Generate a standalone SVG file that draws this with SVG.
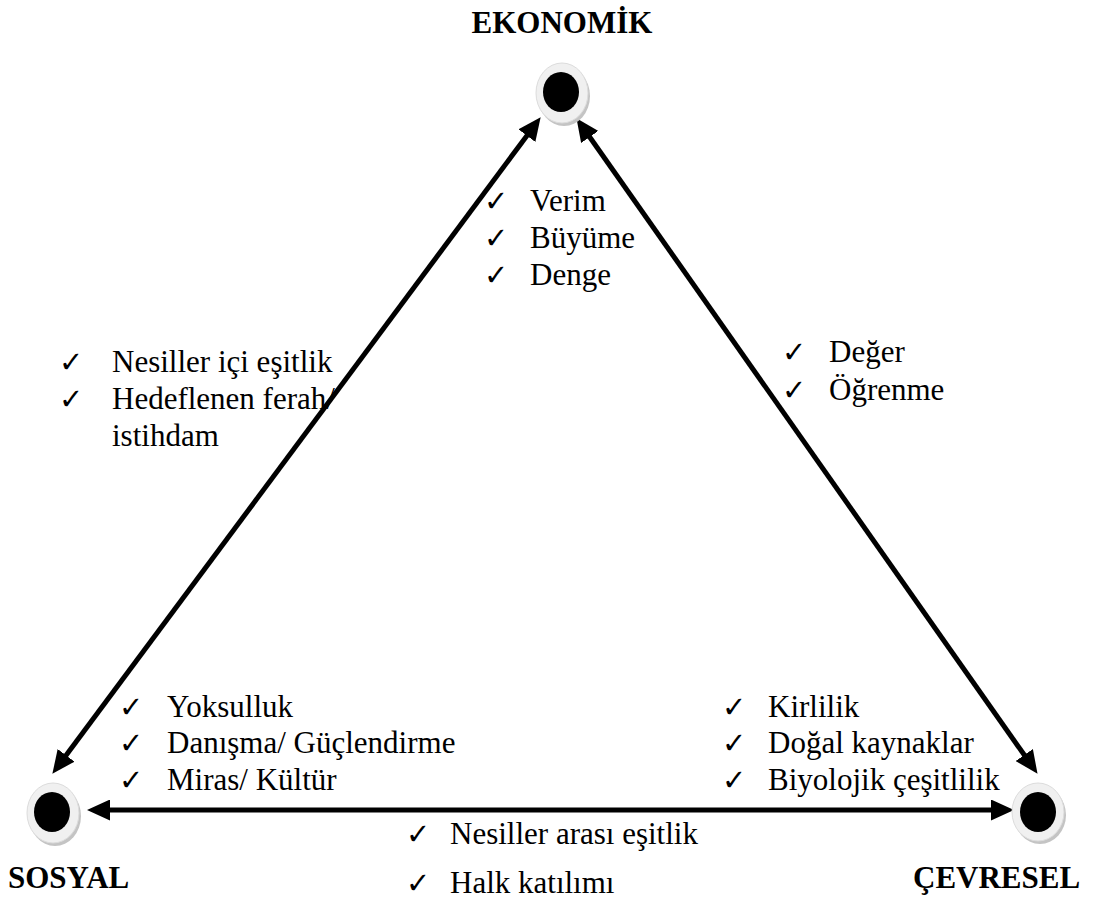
<svg xmlns="http://www.w3.org/2000/svg" width="1094" height="907" viewBox="0 0 1094 907">
<style>
.t{font-family:"Liberation Serif","Times New Roman",serif;font-size:31px;fill:#000}
.h{font-family:"Liberation Serif","Times New Roman",serif;font-size:31px;font-weight:bold;fill:#000}
.c{font-family:"DejaVu Sans",sans-serif;font-size:29px;font-weight:bold;fill:#000}
.ln{stroke:#000;stroke-width:5;fill:none}
.sh{fill:#c4c4c4}
.ring{fill:#f0f0f0;stroke:#dcdcdc;stroke-width:1}
.dot{fill:#000}
</style>
<defs>
<marker id="ah" markerUnits="userSpaceOnUse" markerWidth="23" markerHeight="21" viewBox="0 0 23 21" refX="4" refY="10.5" orient="auto-start-reverse">
<path d="M0,0 L23,10.5 L0,21 z" fill="#000"/>
</marker>
</defs>
<rect width="1094" height="907" fill="#fff"/>
<g id="connectors">
<line class="ln" x1="63.7" y1="758.6" x2="529.3" y2="132.4" marker-start="url(#ah)" marker-end="url(#ah)"/>
<line class="ln" x1="587.4" y1="133.7" x2="1026.6" y2="758.3" marker-start="url(#ah)" marker-end="url(#ah)"/>
<line class="ln" x1="106" y1="810" x2="995" y2="810" marker-start="url(#ah)" marker-end="url(#ah)"/>
</g>
<g id="ekonomik">
<ellipse class="sh" cx="564" cy="96" rx="26" ry="30"/>
<ellipse class="ring" cx="562" cy="93" rx="26" ry="30"/>
<ellipse class="dot" cx="561" cy="92" rx="18" ry="20"/>
<text class="h" x="562" y="33" text-anchor="middle">EKONOMİK</text>
</g>
<g id="sosyal">
<ellipse class="sh" cx="55" cy="816" rx="26" ry="30"/>
<ellipse class="ring" cx="53" cy="813" rx="26" ry="30"/>
<ellipse class="dot" cx="52" cy="812" rx="18" ry="20"/>
<text class="h" x="8" y="888">SOSYAL</text>
</g>
<g id="cevresel">
<ellipse class="sh" cx="1040" cy="815" rx="26" ry="29"/>
<ellipse class="ring" cx="1038" cy="812" rx="26" ry="29"/>
<ellipse class="dot" cx="1038" cy="812" rx="18" ry="20"/>
<text class="h" x="913" y="888">ÇEVRESEL</text>
</g>
<g id="ekonomik-items">
<text class="c" x="484" y="211">✓</text><text class="t" x="530" y="211">Verim</text>
<text class="c" x="484" y="248">✓</text><text class="t" x="530" y="248">Büyüme</text>
<text class="c" x="484" y="285">✓</text><text class="t" x="530" y="285">Denge</text>
</g>
<g id="sosyal-ekonomik-items">
<text class="c" x="59" y="372">✓</text><text class="t" x="112" y="372">Nesiller içi eşitlik</text>
<text class="c" x="59" y="409">✓</text><text class="t" x="112" y="409">Hedeflenen ferah/</text>
<text class="t" x="112" y="446">istihdam</text>
</g>
<g id="cevresel-ekonomik-items">
<text class="c" x="782" y="362">✓</text><text class="t" x="829" y="362">Değer</text>
<text class="c" x="782" y="400">✓</text><text class="t" x="829" y="400">Öğrenme</text>
</g>
<g id="sosyal-items">
<text class="c" x="119" y="717">✓</text><text class="t" x="167" y="717">Yoksulluk</text>
<text class="c" x="119" y="753">✓</text><text class="t" x="167" y="753">Danışma/ Güçlendirme</text>
<text class="c" x="119" y="790">✓</text><text class="t" x="167" y="790">Miras/ Kültür</text>
</g>
<g id="cevresel-items">
<text class="c" x="722" y="717">✓</text><text class="t" x="768" y="717">Kirlilik</text>
<text class="c" x="722" y="753">✓</text><text class="t" x="768" y="753">Doğal kaynaklar</text>
<text class="c" x="722" y="790">✓</text><text class="t" x="768" y="790">Biyolojik çeşitlilik</text>
</g>
<g id="sosyal-cevresel-items">
<text class="c" x="406" y="844">✓</text><text class="t" x="450" y="844">Nesiller arası eşitlik</text>
<text class="c" x="406" y="893">✓</text><text class="t" x="450" y="893">Halk katılımı</text>
</g>
</svg>
